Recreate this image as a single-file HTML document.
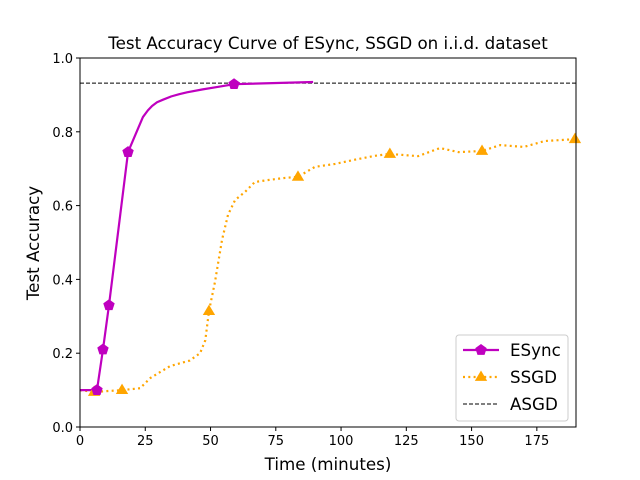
<!DOCTYPE html>
<html><head><meta charset="utf-8"><style>
body{margin:0;background:#fff;}
svg{display:block;font-family:"DejaVu Sans","Liberation Sans",sans-serif;}
</style></head><body>
<svg id="chart" width="640" height="480" viewBox="0 0 640 480">
<text x="328" y="49" text-anchor="middle" font-size="16.7">Test Accuracy Curve of ESync, SSGD on i.i.d. dataset</text>
<g id="plot"></g>
<text x="328" y="470" text-anchor="middle" font-size="16.7">Time (minutes)</text>
<text transform="translate(39,243) rotate(-90)" text-anchor="middle" font-size="16.7">Test Accuracy</text>
</svg>
<script>
const xTicks=[0,25,50,75,100,125,150,175];
const yTicks=[0.0,0.2,0.4,0.6,0.8,1.0];
const esyncX=[0,6.5,8.8,11.1,18.4,22,24.1,26,27.6,29.5,31.8,35,38,41,47,53,59,89.3];
const esyncY=[0.1,0.10,0.21,0.33,0.745,0.805,0.84,0.858,0.87,0.88,0.887,0.896,0.902,0.907,0.915,0.922,0.929,0.935];
const esyncMarkers=[6.5,8.8,11.1,18.4,59];
const esyncMarkerY=[0.10,0.21,0.33,0.745,0.929];
const ssgdX=[0,5.4,16.1,23,27,34.5,42,46,48,49.4,51.7,54.4,56.7,59.4,63.2,67,72.8,78.5,83.5,90,97.7,105,113,118.7,129.5,137.9,145,154,161,170,178,189.6];
const ssgdY=[0.1,0.095,0.10,0.105,0.133,0.165,0.18,0.2,0.235,0.314,0.393,0.507,0.575,0.615,0.637,0.664,0.67,0.675,0.678,0.705,0.713,0.724,0.735,0.74,0.734,0.756,0.745,0.748,0.764,0.759,0.775,0.78];
const ssgdMarkers=[5.4,16.1,49.4,83.5,118.7,154,189.6];
const ssgdMarkerY=[0.095,0.10,0.314,0.678,0.74,0.748,0.78];
const asgdY=0.932;
const X0=80,X1=576,Y0=427,Y1=58,XMAX=190;
const sx=v=>X0+(X1-X0)*v/XMAX, sy=v=>Y0-(Y0-Y1)*v;
const NS="http://www.w3.org/2000/svg";
const g=document.getElementById('plot');
function mk(t,a,p){const e=document.createElementNS(NS,t);for(const k in a)e.setAttribute(k,a[k]);(p||g).appendChild(e);return e;}
let el=mk('line',{x1:X0,x2:X1,y1:sy(asgdY),y2:sy(asgdY),stroke:'#000','stroke-width':1,'stroke-dasharray':'4,2'});


el=mk('polyline',{points:ssgdX.map((x,i)=>sx(x)+','+sy(ssgdY[i])).join(' '),fill:'none',stroke:'#ffa500','stroke-width':2.2,'stroke-dasharray':'2,3.3'});


el=mk('polyline',{points:esyncX.map((x,i)=>sx(x)+','+sy(esyncY[i])).join(' '),fill:'none',stroke:'#bf00bf','stroke-width':2.2,'stroke-linejoin':'round'});


function pent(cx,cy,r){let p=[];for(let k=0;k<5;k++){const a=-Math.PI/2+k*2*Math.PI/5;p.push((cx+r*Math.cos(a))+','+(cy+r*Math.sin(a)));}return p.join(' ');}
function tri(cx,cy,r){return `${cx},${cy-r} ${cx-r*0.95},${cy+r*0.6} ${cx+r*0.95},${cy+r*0.6}`;}
ssgdMarkers.forEach((x,i)=>{const m=mk('polygon',{points:tri(sx(x),sy(ssgdMarkerY[i]),6.5),fill:'#ffa500'});

});
esyncMarkers.forEach((x,i)=>{const m=mk('polygon',{points:pent(sx(x),sy(esyncMarkerY[i]),6),fill:'#bf00bf'});

});
el=mk('rect',{x:X0,y:Y1,width:X1-X0,height:Y0-Y1,fill:'none',stroke:'#000','stroke-width':1});


xTicks.forEach(t=>{mk('line',{x1:sx(t),x2:sx(t),y1:Y0,y2:Y0+4,stroke:'#000'});
const tx=mk('text',{x:sx(t),y:Y0+18,'text-anchor':'middle','font-size':13});tx.textContent=t;

});
yTicks.forEach(t=>{mk('line',{x1:X0-4,x2:X0,y1:sy(t),y2:sy(t),stroke:'#000'});
const tx=mk('text',{x:X0-7,y:sy(t)+5,'text-anchor':'end','font-size':13});tx.textContent=t.toFixed(1);

});
const lg=mk('g',{});


mk('rect',{x:456,y:335,width:112,height:86,rx:3,fill:'#fff','fill-opacity':0.8,stroke:'#ccc'},lg);
mk('line',{x1:463,x2:499,y1:350,y2:350,stroke:'#bf00bf','stroke-width':2.2},lg);
mk('polygon',{points:pent(481,350,6),fill:'#bf00bf'},lg);
mk('line',{x1:463,x2:499,y1:377,y2:377,stroke:'#ffa500','stroke-width':2.2,'stroke-dasharray':'2,3.3'},lg);
mk('polygon',{points:tri(481,377,6.5),fill:'#ffa500'},lg);
mk('line',{x1:463,x2:499,y1:404,y2:404,stroke:'#000','stroke-dasharray':'4,2'},lg);
[['ESync',356],['SSGD',383],['ASGD',410]].forEach(([s,y])=>{const t=mk('text',{x:510,y:y,'font-size':16.7},lg);t.textContent=s;

});
</script>
</body></html>
